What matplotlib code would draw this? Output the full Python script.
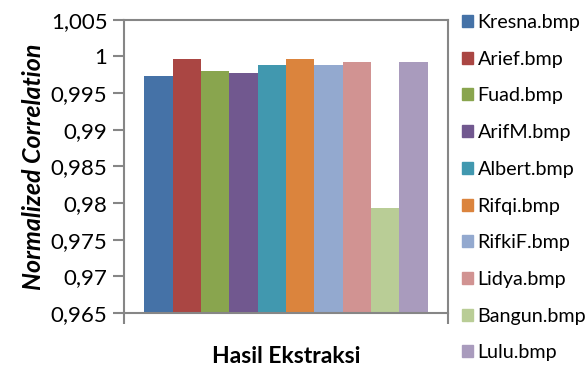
import matplotlib
matplotlib.use("Agg")
import matplotlib.pyplot as plt
import numpy as np

names = ["Kresna.bmp", "Arief.bmp", "Fuad.bmp", "ArifM.bmp", "Albert.bmp",
         "Rifqi.bmp", "RifkiF.bmp", "Lidya.bmp", "Bangun.bmp", "Lulu.bmp"]
values = [0.9974, 0.9996, 0.9980, 0.9977, 0.9988,
          0.9996, 0.9988, 0.9993, 0.9793, 0.9993]
colors = ["#4572A7", "#AA4643", "#89A54E", "#71588F", "#4198AF",
          "#DB843D", "#93A9CF", "#D19392", "#B9CD96", "#A99BBD"]
yticks = [0.965, 0.97, 0.975, 0.98, 0.985, 0.99, 0.995, 1.0, 1.005]
ytick_labels = ["0,965", "0,97", "0,975", "0,98", "0,985", "0,99", "0,995", "1", "1,005"]

plt.rcParams['font.family'] = ['Lato', 'DejaVu Sans']

fig = plt.figure(figsize=(5.88, 3.67), dpi=100)
ax = fig.add_axes([0.211, 0.147, 0.551, 0.799])

n = len(values)
x = np.arange(n) - (n - 1) / 2
ax.bar(x, np.array(values) - 0.965, bottom=0.965, width=1.0, color=colors)

gap = 0.72
ax.set_xlim(-n / 2 - gap, n / 2 + gap)
ax.set_ylim(0.965, 1.005)
ax.set_yticks(yticks)
ax.set_yticklabels(ytick_labels, fontsize=16)
ax.set_xticks([-n / 2 - gap, n / 2 + gap])
ax.set_xticklabels([])

grey = "#868686"
for s in ax.spines.values():
    s.set_color(grey)
    s.set_linewidth(1.5)
ax.tick_params(axis="both", color=grey, width=1.5, length=8, direction="out", pad=4)

ax.set_ylabel("Normalized Correlation", fontsize=18, fontweight="bold",
              fontstyle="italic", labelpad=4)
ax.set_xlabel("Hasil Ekstraksi", fontsize=16.5, fontweight="bold", labelpad=12)

handles = [plt.Rectangle((0, 0), 1, 1, color=c) for c in colors]
fig.legend(handles, names, loc="upper left", bbox_to_anchor=(0.785, 0.962),
           frameon=False, fontsize=14.2, handlelength=0.56, handleheight=0.56,
           handletextpad=0.25, labelspacing=1.0, borderaxespad=0, borderpad=0)

fig.savefig("out.png", dpi=100)
